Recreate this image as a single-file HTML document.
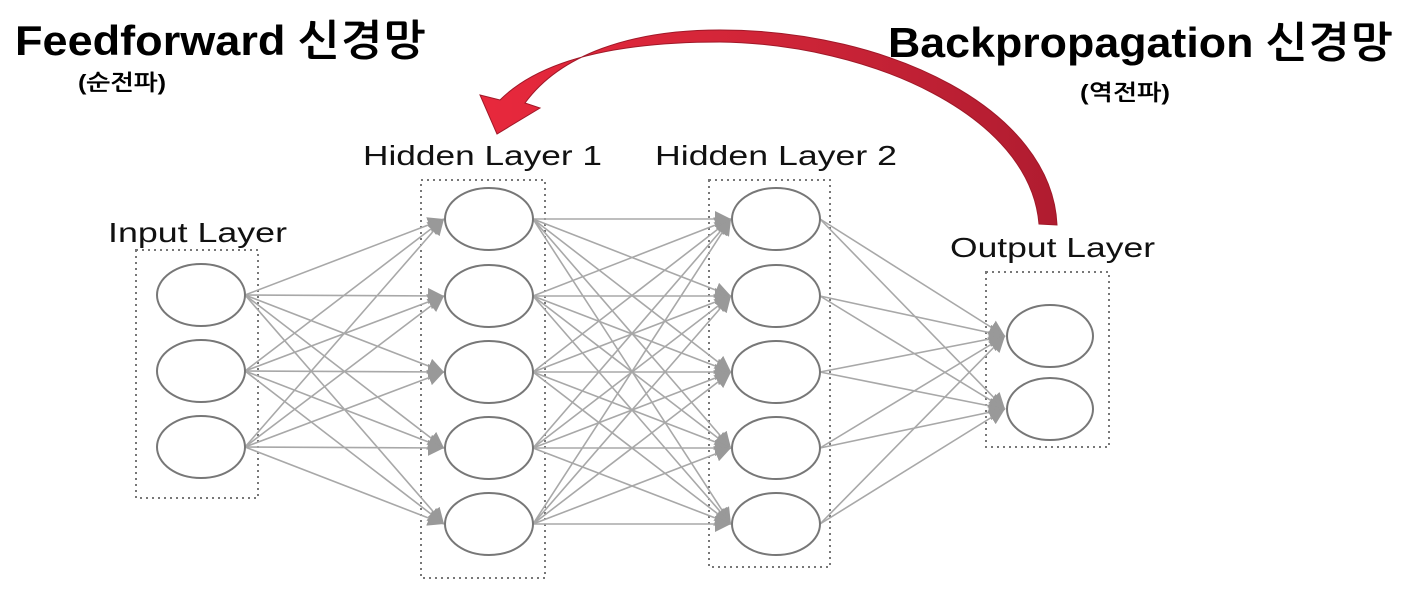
<!DOCTYPE html>
<html><head><meta charset="utf-8"><style>
body{margin:0;background:#fff;width:1403px;height:589px;overflow:hidden}
svg{display:block}
.t{font-family:"Liberation Sans",Arial,sans-serif;font-size:28px;fill:#111}
.k{font-family:"Liberation Sans","NanumGothic","Noto Sans CJK KR",sans-serif;font-weight:bold;fill:#000}
</style></head><body>
<svg id="s" width="1403" height="589" viewBox="0 0 1403 589" xmlns="http://www.w3.org/2000/svg">
<defs><marker id="b" viewBox="0 0 10 10" refX="10" refY="5" markerWidth="16" markerHeight="16" markerUnits="userSpaceOnUse" orient="auto"><path d="M0,0L10,5L0,10z" fill="#999"/></marker></defs>
<g fill="none" stroke="#777" stroke-width="2" stroke-dasharray="2,4">
<rect x="136" y="250" width="122" height="248"/>
<rect x="421" y="180" width="124" height="398"/>
<rect x="709" y="180" width="121" height="387"/>
<rect x="986" y="272" width="123" height="175"/>
</g>
<g id="e" stroke="#a8a8a8" stroke-width="1.6" fill="none"></g>
<g id="n" fill="#fff" stroke="#777" stroke-width="2"></g>
<text class="t" x="108" y="242" textLength="179" lengthAdjust="spacingAndGlyphs">Input Layer</text>
<text class="t" x="363" y="165" textLength="239" lengthAdjust="spacingAndGlyphs">Hidden Layer 1</text>
<text class="t" x="655" y="165" textLength="242" lengthAdjust="spacingAndGlyphs">Hidden Layer 2</text>
<text class="t" x="950" y="257" textLength="205" lengthAdjust="spacingAndGlyphs">Output Layer</text>
<text class="k" x="15" y="55" font-size="42" textLength="410" lengthAdjust="spacingAndGlyphs">Feedforward 신경망</text>
<text class="k" x="78" y="90" font-size="22" font-weight="normal" textLength="88" lengthAdjust="spacingAndGlyphs">(순전파)</text>
<text class="k" x="888" y="57" font-size="42" textLength="504" lengthAdjust="spacingAndGlyphs">Backpropagation 신경망</text>
<text class="k" x="1080" y="100" font-size="22" textLength="90" lengthAdjust="spacingAndGlyphs">(역전파)</text>
<defs><linearGradient id="g" x1="0" x2="1"><stop offset="0" stop-color="#e8283c"/><stop offset="0.5" stop-color="#d02538"/><stop offset="1" stop-color="#b01c30"/></linearGradient></defs>
<path d="M1057,225 C1052,110 890,30 720,30 C630,30 560,55 525,103 L540,108 L497,134 L480,95 L500,100 C545,55 630,42 720,42 C870,44 1030,115 1039,224 Z" fill="url(#g)" stroke="#a01828" stroke-width="1"/>
</svg>
<script>
var L=[[201,[295,371,447]],[489,[219,296,372,448,524]],[776,[219,296,372,448,524]],[1050,[336,409]]];
var e=document.getElementById('e'),n=document.getElementById('n'),NS="http://www.w3.org/2000/svg";
for(var i=0;i<3;i++){var a=L[i],b=L[i+1];a[1].forEach(function(y1){b[1].forEach(function(y2){var l=document.createElementNS(NS,'line');l.setAttribute('x1',a[0]+44);l.setAttribute('y1',y1);l.setAttribute('x2',b[0]-45);l.setAttribute('y2',y2);l.setAttribute('marker-end','url(#b)');e.appendChild(l);});});}
L.forEach(function(c){var rx=c[0]==1050?43:44;c[1].forEach(function(y){var o=document.createElementNS(NS,'ellipse');o.setAttribute('cx',c[0]);o.setAttribute('cy',y);o.setAttribute('rx',rx);o.setAttribute('ry',31);n.appendChild(o);});});
</script>
</body></html>
